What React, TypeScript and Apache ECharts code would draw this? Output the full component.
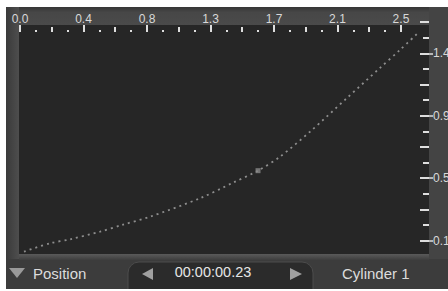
import React, { useEffect, useRef } from "react";
import * as echarts from "echarts";

// ---- data ----
const STEP = 2.5 / 6; // spacing of labelled ticks (both axes)
const xMin = 0;
const xMax = 2.684;
const yMin = 0.0163;
const yMax = 1.577;
const yBase = 0.105; // first labelled value on the right axis

// x tick values (top axis)
const xMajorTicks = [0, 1, 2, 3, 4, 5, 6].map((k) => k * STEP);
const xHalfTicks = Array.from({ length: 13 }, (_, k) => (k * STEP) / 2);
const xQuarterTicks = Array.from({ length: 25 }, (_, k) => (k * STEP) / 4);

// y tick values (right axis)
const yLabelValues = [0, 1, 2, 3].map((k) => yBase + k * STEP);
const yLongTicks = Array.from({ length: 8 }, (_, k) => yBase + (k * STEP) / 2);
const yShortTicks = Array.from({ length: 7 }, (_, k) => yBase + ((2 * k + 1) * STEP) / 4);

// curve (position over time)
const curveX = [0.026, 0.197, 0.328, 0.525, 0.669, 0.853, 1.181, 1.398, 1.562, 1.706, 1.903, 2.146, 2.362, 2.493, 2.612];
const curveY = [0.032, 0.088, 0.114, 0.165, 0.21, 0.265, 0.388, 0.492, 0.572, 0.665, 0.832, 1.057, 1.257, 1.377, 1.491];

// keyframe marker
const keyX = [1.562];
const keyY = [0.572];

const footerLeft = "Position";
const footerTime = "00:00:00.23";
const footerRight = "Cylinder 1";

const FONT = "Liberation Sans, Arial, sans-serif";
const TICK_COLOR = "#dedede";
const LABEL_COLOR = "#d8d8d8";

export default function App() {
  const ref = useRef<HTMLDivElement>(null);

  useEffect(() => {
    if (!ref.current) return;
    const chart = echarts.init(ref.current, undefined, { renderer: "svg" });

    const xBase = {
      type: "value",
      position: "top",
      min: xMin,
      max: xMax,
      offset: -12,
      axisLine: { show: false, onZero: false },
      splitLine: { show: false },
    };
    const yCommon = {
      type: "value",
      position: "right",
      min: yMin,
      max: yMax,
      axisLine: { show: false, onZero: false },
      splitLine: { show: false },
    };

    chart.setOption({
      animation: false,
      backgroundColor: "#ffffff",
      grid: { left: 20, right: 19, top: 20, bottom: 37, containLabel: false, outerBoundsMode: "none" },
      graphic: [
        { type: "rect", z: -100, shape: { x: 6, y: 7, width: 442, height: 283 }, style: { fill: "#3c3c3c" } },
        {
          type: "rect",
          z: -99,
          shape: { x: 6, y: 7, width: 442, height: 18 },
          style: {
            fill: new echarts.graphic.LinearGradient(0, 0, 0, 1, [
              { offset: 0, color: "#363636" },
              { offset: 0.3, color: "#474747" },
              { offset: 1, color: "#4a4a4a" },
            ]),
          },
        },
        {
          type: "rect",
          z: -99,
          shape: { x: 6, y: 7, width: 13, height: 252 },
          style: {
            fill: new echarts.graphic.LinearGradient(0, 0, 1, 0, [
              { offset: 0, color: "#3a3a3a" },
              { offset: 1, color: "#4e4e4e" },
            ]),
          },
        },
        { type: "rect", z: -99, shape: { x: 429, y: 7, width: 19, height: 252 }, style: { fill: "#444444" } },
        { type: "rect", z: -98, shape: { x: 19, y: 25, width: 410, height: 229 }, style: { fill: "#262626" } },
        {
          type: "rect",
          z: -98,
          shape: { x: 19, y: 254, width: 410, height: 6 },
          style: {
            fill: new echarts.graphic.LinearGradient(0, 0, 0, 1, [
              { offset: 0, color: "#5a5a5a" },
              { offset: 1, color: "#3e3e3e" },
            ]),
          },
        },
        {
          type: "rect",
          z: -97,
          shape: { x: 128, y: 262, width: 185, height: 32, r: [11, 11, 0, 0] },
          style: { fill: "#2b2b2b", stroke: "#4c4c4c", lineWidth: 1 },
        },
        { type: "rect", z: -96, shape: { x: 0, y: 289, width: 448, height: 2 }, style: { fill: "#ffffff" } },
        { type: "polygon", z: 50, shape: { points: [[9, 268], [25, 268], [17, 278]] }, style: { fill: "#9a9a9a" } },
        { type: "polygon", z: 50, shape: { points: [[153, 268], [153, 280], [142, 274]] }, style: { fill: "#a0a0a0" } },
        { type: "polygon", z: 50, shape: { points: [[290, 268], [290, 280], [302, 274]] }, style: { fill: "#a0a0a0" } },
        {
          type: "text",
          z: 50,
          x: 33,
          y: 273,
          style: { text: footerLeft, fill: "#dcdcdc", font: `15px ${FONT}`, verticalAlign: "middle" },
        },
        {
          type: "text",
          z: 50,
          x: 213,
          y: 272,
          style: { text: footerTime, fill: "#e6e6e6", font: `14.5px ${FONT}`, align: "center", verticalAlign: "middle" },
        },
        {
          type: "text",
          z: 50,
          x: 342,
          y: 273,
          style: { text: footerRight, fill: "#dcdcdc", font: `15px ${FONT}`, verticalAlign: "middle" },
        },
      ],
      xAxis: [
        {
          ...xBase,
          axisTick: { show: true, inside: false, length: 7, customValues: xMajorTicks, lineStyle: { color: TICK_COLOR, width: 2 } },
          axisLabel: {
            show: true,
            customValues: xMajorTicks,
            formatter: (v: number) => v.toFixed(1),
            color: LABEL_COLOR,
            fontSize: 12,
            fontFamily: FONT,
            margin: 7,
          },
        },
        {
          ...xBase,
          axisTick: { show: true, inside: false, length: 5, customValues: xHalfTicks, lineStyle: { color: TICK_COLOR, width: 2 } },
          axisLabel: { show: false },
        },
        {
          ...xBase,
          axisTick: { show: true, inside: false, length: 2, customValues: xQuarterTicks, lineStyle: { color: TICK_COLOR, width: 2 } },
          axisLabel: { show: false },
        },
      ],
      yAxis: [
        {
          ...yCommon,
          axisTick: { show: true, inside: true, length: 9, customValues: yLongTicks, lineStyle: { color: TICK_COLOR, width: 2 } },
          axisLabel: { show: false },
        },
        {
          ...yCommon,
          axisTick: { show: true, inside: true, length: 6, customValues: yShortTicks, lineStyle: { color: TICK_COLOR, width: 2 } },
          axisLabel: { show: false },
        },
        {
          ...yCommon,
          axisTick: { show: true, inside: false, length: 4, customValues: yLabelValues, lineStyle: { color: TICK_COLOR, width: 1.5 } },
          axisLabel: {
            show: true,
            customValues: yLabelValues,
            formatter: (v: number) => v.toFixed(1),
            color: LABEL_COLOR,
            fontSize: 12,
            fontFamily: FONT,
            margin: 4,
          },
        },
      ],
      series: [
        {
          type: "line",
          xAxisIndex: 0,
          yAxisIndex: 0,
          data: curveX.map((x, i) => [x, curveY[i]]),
          showSymbol: false,
          smooth: 0.3,
          lineStyle: { color: "#8e8e8e", width: 1.8, type: [2, 4] },
          z: 5,
        },
        {
          type: "scatter",
          xAxisIndex: 0,
          yAxisIndex: 0,
          data: keyX.map((x, i) => [x, keyY[i]]),
          symbol: "rect",
          symbolSize: 5,
          itemStyle: { color: "#8a8a8a" },
          z: 6,
        },
      ],
    });

    return () => chart.dispose();
  }, []);

  return (
    <div
      ref={ref}
      style={{ position: "absolute", left: 0, top: 0, width: 448, height: 291, background: "#ffffff" }}
    />
  );
}
